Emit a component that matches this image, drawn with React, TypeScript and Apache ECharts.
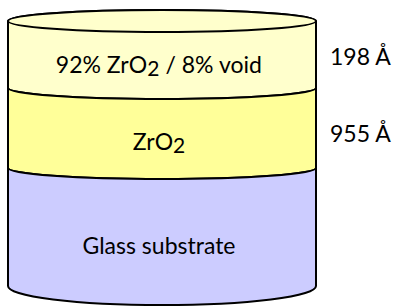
import React, { useEffect, useRef } from "react";
import * as echarts from "echarts";

// Layers of the stack, top to bottom
const layerNames = ["92% ZrO2 / 8% void", "ZrO2", "Glass substrate"];
const thicknessLabels = ["198 Å", "955 Å", ""];
const layerColors = ["#FFFFCC", "#FFFF99", "#CCCCFF"];

// cylinder geometry
const CX = 162;
const RX = 154;
const RY = 11;
const TOP_Y = 21;
const BOUNDARY_Y = [88, 168];
const BOTTOM_Y = 286;
const BOTTOM_RY = 19;
const LABEL_Y = [64, 141, 245];
const THICK_Y = [56, 133];
const FONT = "Lato, 'Noto Sans', sans-serif";

function toRich(s: string) {
  return s.replace(/ZrO2/g, "ZrO{s|2}");
}

export default function App() {
  const ref = useRef<HTMLDivElement>(null);
  useEffect(() => {
    if (!ref.current) return;
    const chart = echarts.init(ref.current, undefined, { renderer: "svg" });
    const L = CX - RX;
    const R = CX + RX;
    const tops = [TOP_Y, ...BOUNDARY_Y];
    const bottoms = [...BOUNDARY_Y, BOTTOM_Y];
    const elements: any[] = [];
    layerNames.forEach((name, i) => {
      const t = tops[i];
      const b = bottoms[i];
      const bry = i === layerNames.length - 1 ? BOTTOM_RY : RY;
      let d: string;
      if (i === 0) {
        d = `M${L},${t} L${L},${b} A${RX},${bry} 0 0 0 ${R},${b} L${R},${t} A${RX},${RY} 0 0 0 ${L},${t} Z`;
      } else {
        d = `M${L},${t} A${RX},${RY} 0 0 0 ${R},${t} L${R},${b} A${RX},${bry} 0 0 1 ${L},${b} Z`;
      }
      const shapeName = "layer" + i;
      echarts.graphic.registerShape(shapeName, echarts.graphic.extendPath(d, {}) as any);
      elements.push({
        type: shapeName,
        x: 0,
        y: 0,
        z: 1,
        style: { fill: layerColors[i], stroke: "#000", lineWidth: 2 },
      });
      elements.push({
        type: "text",
        x: CX - 3,
        y: LABEL_Y[i],
        z: 5,
        style: {
          text: toRich(name),
          align: "center",
          verticalAlign: "middle",
          font: `23px ${FONT}`,
          fill: "#000",
          lineHeight: 28,
          rich: {
            s: { fontSize: 21, fontFamily: FONT, verticalAlign: "bottom", lineHeight: 28 },
          },
        },
      });
      if (thicknessLabels[i]) {
        elements.push({
          type: "text",
          x: 330,
          y: THICK_Y[i],
          z: 5,
          style: {
            text: thicknessLabels[i],
            align: "left",
            verticalAlign: "middle",
            font: `23px ${FONT}`,
            fill: "#000",
          },
        });
      }
    });
    elements.push({
      type: "ellipse",
      z: 3,
      shape: { cx: CX, cy: TOP_Y, rx: RX, ry: RY },
      style: { fill: layerColors[0], stroke: "#000", lineWidth: 2 },
    });
    chart.setOption({
      animation: false,
      graphic: { elements },
    });
    return () => chart.dispose();
  }, []);
  return <div ref={ref} style={{ width: 395, height: 307, position: "absolute", left: 0, top: 0 }} />;
}
